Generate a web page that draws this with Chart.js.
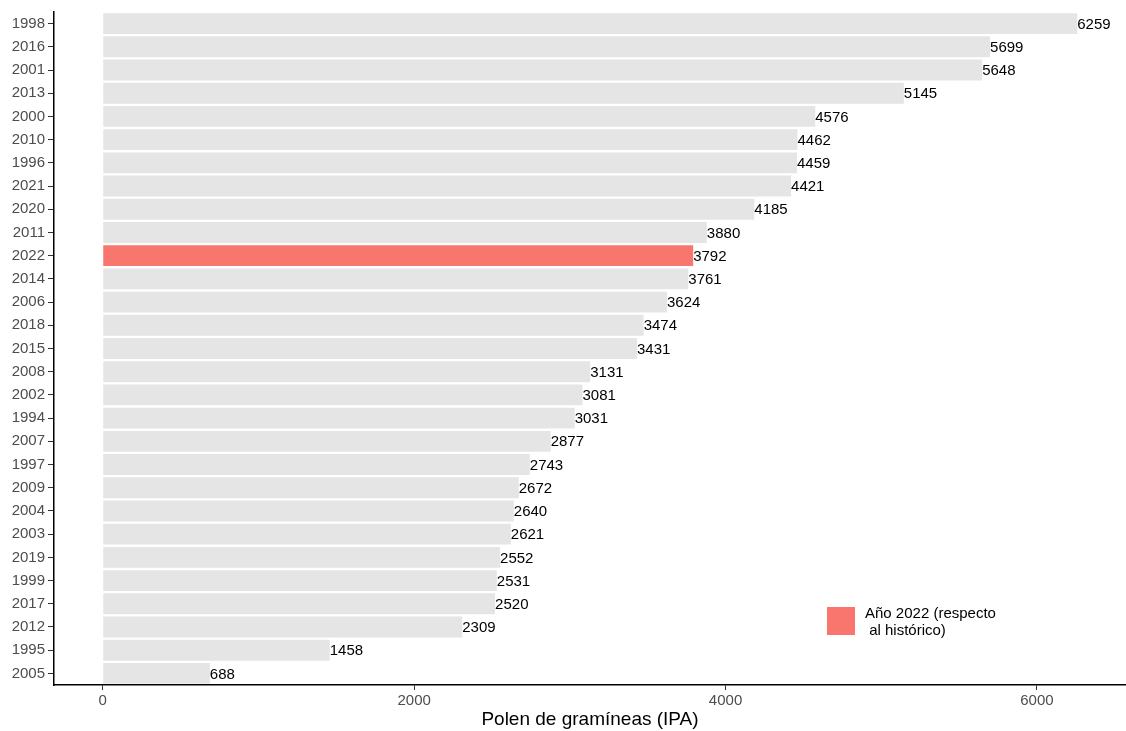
<!DOCTYPE html>
<html>
<head>
<meta charset="utf-8">
<script src="https://cdn.jsdelivr.net/npm/chart.js@4/dist/chart.umd.min.js"></script>
<style>
  body { margin: 0; background: #fff; }
  #wrap { width: 1126px; height: 731px; }
</style>
</head>
<body>
<div id="wrap"><canvas id="pollen_chart"></canvas></div>
<script>
const years = ["1998", "2016", "2001", "2013", "2000", "2010", "1996", "2021", "2020", "2011",
  "2022", "2014", "2006", "2018", "2015", "2008", "2002", "1994", "2007", "1997",
  "2009", "2004", "2003", "2019", "1999", "2017", "2012", "1995", "2005"];
const pollen = [6259, 5699, 5648, 5145, 4576, 4462, 4459, 4421, 4185, 3880,
  3792, 3761, 3624, 3474, 3431, 3131, 3081, 3031, 2877, 2743,
  2672, 2640, 2621, 2552, 2531, 2520, 2309, 1458, 688];
const xTicks = [0, 2000, 4000, 6000];
const highlightYear = "2022";
const legendLines = ["Año 2022 (respecto", " al histórico)"];

const FONT = "'Liberation Sans', Arial, sans-serif";
const RED = "#F8766D";
const GREY = "#E5E5E5";

// value labels at the end of each bar
const valueLabels = {
  id: 'valueLabels',
  afterDatasetsDraw(chart) {
    const ctx = chart.ctx;
    const meta = chart.getDatasetMeta(0);
    ctx.save();
    ctx.font = "15px " + FONT;
    ctx.fillStyle = "#000";
    ctx.textAlign = "left";
    ctx.textBaseline = "middle";
    meta.data.forEach(function (bar, i) {
      ctx.fillText(String(pollen[i]), bar.x, bar.y + 1);
    });
    ctx.restore();
  }
};

// legend box inside the plot, lower right
const insideLegend = {
  id: 'insideLegend',
  afterDraw(chart) {
    const ctx = chart.ctx;
    ctx.save();
    ctx.fillStyle = RED;
    ctx.fillRect(827, 607, 28, 28);
    ctx.font = "15px " + FONT;
    ctx.fillStyle = "#000";
    ctx.textBaseline = "middle";
    ctx.fillText(legendLines[0], 865, 614);
    ctx.fillText(legendLines[1], 865, 631);
    ctx.restore();
  }
};

new Chart(document.getElementById("pollen_chart"), {
  type: "bar",
  data: {
    labels: years,
    datasets: [{
      data: pollen,
      backgroundColor: years.map(y => y === highlightYear ? RED : GREY),
      borderWidth: 0,
      categoryPercentage: 1,
      barPercentage: 0.9
    }]
  },
  options: {
    indexAxis: "y",
    responsive: true,
    maintainAspectRatio: false,
    animation: false,
    layout: { padding: { top: 7, right: 0, bottom: 0, left: 0 } },
    plugins: {
      legend: { display: false },
      tooltip: { enabled: false }
    },
    scales: {
      x: {
        min: -313,
        max: 6572,
        afterBuildTicks(axis) {
          axis.ticks = xTicks.map(v => ({ value: v }));
        },
        afterFit(axis) { axis.height = 46; },
        grid: { drawOnChartArea: false, drawTicks: true, tickLength: 5, color: "#333" },
        border: { display: true, color: "#000", width: 1.5 },
        ticks: {
          color: "#4D4D4D", font: { family: FONT, size: 15 }, padding: 2,
          callback: v => String(v)
        },
        title: {
          display: true,
          text: "Polen de gramíneas (IPA)",
          color: "#000",
          font: { family: FONT, size: 19 },
          padding: { top: 0, bottom: 0 }
        }
      },
      y: {
        afterFit(axis) { axis.width = 54; },
        grid: { offset: false, drawOnChartArea: false, drawTicks: true, tickLength: 6, color: "#333" },
        border: { display: true, color: "#000", width: 1.5 },
        ticks: { color: "#4D4D4D", font: { family: FONT, size: 15 }, padding: 3, autoSkip: false }
      }
    }
  },
  plugins: [valueLabels, insideLegend]
});
</script>
</body>
</html>
